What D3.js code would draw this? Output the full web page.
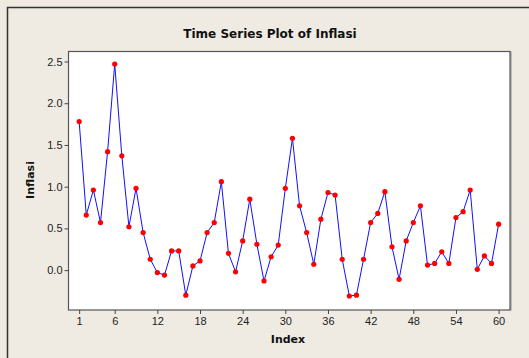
<!DOCTYPE html>
<html>
<head>
<meta charset="utf-8">
<script src="https://cdn.jsdelivr.net/npm/d3@7"></script>
<style>
  body { margin: 0; background: #efebe2; }
  svg { display: block; }
</style>
</head>
<body>
<div id="chart"></div>
<script>
// Inflasi values, index 1..60
var inflasi = [
  1.78, 0.66, 0.96, 0.57, 1.42, 2.47, 1.37, 0.52, 0.98, 0.45,
  0.13, -0.03, -0.06, 0.23, 0.23, -0.30, 0.05, 0.11, 0.45, 0.57,
  1.06, 0.20, -0.02, 0.35, 0.85, 0.31, -0.13, 0.16, 0.30, 0.98,
  1.58, 0.77, 0.45, 0.07, 0.61, 0.93, 0.90, 0.13, -0.31, -0.30,
  0.13, 0.57, 0.68, 0.94, 0.28, -0.11, 0.35, 0.57, 0.77, 0.06,
  0.08, 0.22, 0.08, 0.63, 0.70, 0.96, 0.01, 0.17, 0.08, 0.55
];
var xTicks = [1, 6, 12, 18, 24, 30, 36, 42, 48, 54, 60];
var yTicks = [0.0, 0.5, 1.0, 1.5, 2.0, 2.5];

var width = 529, height = 358;
var plot = { left: 68.5, top: 51.5, right: 510, bottom: 310 };

var svg = d3.select("#chart").append("svg")
    .attr("width", width).attr("height", height)
    .style("font-family", "'DejaVu Sans', Verdana, sans-serif");

svg.append("rect").attr("width", width).attr("height", height).attr("fill", "#efebe2");

// outer frame (runs off the right and bottom)
svg.append("path")
    .attr("d", "M7.5," + height + "V7.5H" + width)
    .attr("fill", "none").attr("stroke", "#333").attr("stroke-width", 1.5);

var x = d3.scaleLinear().domain([-0.5, 61.6]).range([plot.left, plot.right]);
var y = d3.scaleLinear().domain([-0.478, 2.62]).range([plot.bottom, plot.top]);

svg.append("rect")
    .attr("x", plot.left).attr("y", plot.top)
    .attr("width", plot.right - plot.left).attr("height", plot.bottom - plot.top)
    .attr("fill", "#fff").attr("stroke", "#555").attr("stroke-width", 1.2);
// darker shadow on the right edge
svg.append("line")
    .attr("x1", plot.right + 0.8).attr("x2", plot.right + 0.8)
    .attr("y1", plot.top).attr("y2", plot.bottom + 0.6)
    .attr("stroke", "#777").attr("stroke-width", 1.2);

var xAxis = svg.append("g")
    .attr("transform", "translate(0," + plot.bottom + ")")
    .call(d3.axisBottom(x).tickValues(xTicks).tickSize(4).tickPadding(3).tickFormat(d3.format("d")));
var yAxis = svg.append("g")
    .attr("transform", "translate(" + plot.left + ",0)")
    .call(d3.axisLeft(y).tickValues(yTicks).tickSize(4).tickPadding(2).tickFormat(d3.format(".1f")));

[xAxis, yAxis].forEach(function (a) {
  a.select(".domain").remove();
  a.selectAll(".tick line").attr("stroke", "#444");
  a.selectAll(".tick text").attr("fill", "#222").style("font-size", "11px");
});

var line = d3.line()
    .x(function (d, i) { return x(i + 1); })
    .y(function (d) { return y(d); });

svg.append("path")
    .datum(inflasi)
    .attr("d", line)
    .attr("fill", "none")
    .attr("stroke", "#1010ff")
    .attr("stroke-width", 1);

svg.selectAll("circle.pt")
    .data(inflasi)
    .enter().append("circle")
    .attr("class", "pt")
    .attr("cx", function (d, i) { return x(i + 1); })
    .attr("cy", function (d) { return y(d); })
    .attr("r", 2.6)
    .attr("fill", "#ff0000");

svg.append("text")
    .attr("x", 270).attr("y", 38)
    .attr("text-anchor", "middle")
    .style("font-size", "12px").style("font-weight", "bold")
    .attr("fill", "#111")
    .text("Time Series Plot of Inflasi");

svg.append("text")
    .attr("x", 288).attr("y", 343)
    .attr("text-anchor", "middle")
    .style("font-size", "11px").style("font-weight", "bold")
    .attr("fill", "#111")
    .text("Index");

svg.append("text")
    .attr("transform", "translate(34,180) rotate(-90)")
    .attr("text-anchor", "middle")
    .style("font-size", "11px").style("font-weight", "bold")
    .attr("fill", "#111")
    .text("Inflasi");
</script>
</body>
</html>
